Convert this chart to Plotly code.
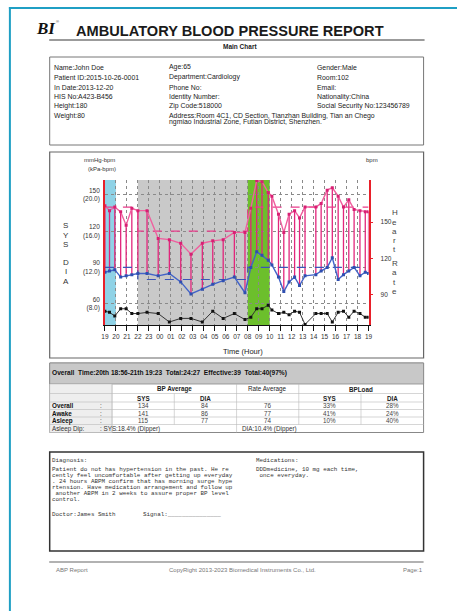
import plotly.graph_objects as go

W, H = 461, 611
def X(p): return p / W
def Y(p): return 1 - p / H

SANS = "Liberation Sans, Arial, sans-serif"
SERIF = "Liberation Serif, Times New Roman, serif"
MONO = "Liberation Mono, Courier New, monospace"

# ---------------- data ----------------
reading_times = ["19:00", "19:25", "19:54", "20:26", "20:56", "21:27", "22:00", "22:50",
                 "23:51", "00:52", "01:54", "02:50", "03:52", "04:49", "05:46", "06:47",
                 "07:45", "08:17", "08:49", "09:18", "09:52", "10:12", "10:48", "11:17",
                 "11:46", "12:16", "12:43", "13:13", "14:12", "14:41", "15:14", "15:42",
                 "16:14", "16:43", "17:12", "17:41", "18:13", "18:42", "19:00"]
sys_values = [141, 137, 140, 136, 125, 139, 137, 137, 114, 113, 110, 101, 110, 112, 113, 119,
              119, 139, 162, 161, 152, 149, 134, 119, 134, 137, 131, 140, 140, 143, 154, 156,
              149, 140, 146, 138, 137, 136, 136]
dia_values = [86, 87, 88, 82, 83, 84, 85, 85, 83, 85, 78, 68, 72, 76, 79, 82,
              69, 90, 103, 100, 96, 92, 82, 70, 78, 82, 75, 83, 84, 87, 90, 98,
              80, 84, 87, 90, 83, 86, 85]
hr_values = [76, 75, 72, 78, 78, 74, 74, 75, 74, 67, 70, 70, 67, 76, 70, 74,
             69, 71, 78, 78, 81, 77, 74, 75, 73, 76, 75, 65, 74, 74, 74, 67,
             75, 76, 71, 76, 74, 71, 71]

hour_labels = ["19", "20", "21", "22", "23", "00", "01", "02", "03", "04", "05", "06", "07",
               "08", "09", "10", "11", "12", "13", "14", "15", "16", "17", "18", "19"]
bp_ticks = [60, 90, 120, 150]
bp_tick_labels = ["60<br>(8.0)", "90<br>(12.0)", "120<br>(16.0)", "150<br>(20.0)"]
hr_ticks = [90, 120, 150]

# shaded periods (start, end)
first_hour = ("19:00", "20:00")
sleep_period = ("22:00", "08:00")
surge_period = ("08:00", "10:00")

sys_limit_awake, sys_limit_asleep = 140, 120
dia_limit_awake, dia_limit_asleep = 90, 80

info_col1 = ["Name:John Doe", "Patient ID:2015-10-26-0001", "In Date:2013-12-20",
             "HIS No:A423-B456", "Height:180", "Weight:80"]
info_col2 = ["Age:65", "Department:Cardiology", "Phone No:", "Identity Number:",
             "Zip Code:518000",
             "Address:Room 4C1, CD Section, Tianzhan Building, Tian an Chego",
             "ngmiao Industrial Zone, Futian District, Shenzhen."]
info_col3 = ["Gender:Male", "Room:102", "Email:", "Nationality:China",
             "Social Security No:123456789"]

summary_title = "Overall  Time:20th 18:56-21th 19:23  Total:24:27  Effective:39  Total:40(97%)"
row_names = ["Overall", "Awake", "Asleep"]
sys_avg = [134, 141, 115]
dia_avg = [84, 86, 77]
rate_avg = [76, 77, 74]
sys_load = ["33%", "41%", "10%"]
dia_load = ["28%", "24%", "40%"]
dip_sys = "SYS:18.4% (Dipper)"
dip_dia = "DIA:10.4% (Dipper)"

diagnosis_lines = ["Diagnosis:",
                   "Patient do not has hypertension in the past. He re",
                   "cently feel uncomfortable after getting up everyday",
                   ". 24 hours ABPM confirm that has morning surge hype",
                   "rtension. Have medication arrangement and follow up",
                   " another ABPM in 2 weeks to assure proper BP level",
                   "control."]
medication_lines = ["Medications:", "DDDmedicine, 10 mg each time,", " once everyday."]
doctor_text = "Doctor:James Smith"
signal_text = "Signal:_______________"


# ---------------- helpers ----------------
def to_offsets(times, start=19):
    out, prev = [], None
    for t in times:
        h, m = map(int, t.split(":"))
        v = ((h - start) % 24) + m / 60
        if prev is not None:
            while v < prev:
                v += 24
        out.append(v)
        prev = v
    return out

t = to_offsets(reading_times)
def off(clock):
    return to_offsets([clock])[0]

fig = go.Figure()

# range bars SYS->DIA
bx, by = [], []
for xi, s, d in zip(t, sys_values, dia_values):
    bx += [xi, xi, None]
    by += [d, s, None]
fig.add_trace(go.Scatter(x=bx, y=by, mode="lines", line=dict(color="#e2267c", width=1.3),
                         hoverinfo="skip", showlegend=False))

# threshold step lines
s0 = off(sleep_period[0])
s1 = off(sleep_period[1])
if s1 <= s0:
    s1 += 24
step_x = [0, s0, s0, s1, s1, 24]
fig.add_trace(go.Scatter(x=step_x, y=[sys_limit_awake, sys_limit_awake, sys_limit_asleep,
                                      sys_limit_asleep, sys_limit_awake, sys_limit_awake],
                         mode="lines", line=dict(color="#ea3d8c", width=1.2, dash="dash"),
                         hoverinfo="skip", showlegend=False))
fig.add_trace(go.Scatter(x=step_x, y=[dia_limit_awake, dia_limit_awake, dia_limit_asleep,
                                      dia_limit_asleep, dia_limit_awake, dia_limit_awake],
                         mode="lines", line=dict(color="#3a55b8", width=1.2, dash="dash"),
                         hoverinfo="skip", showlegend=False))

fig.add_trace(go.Scatter(x=t, y=sys_values, mode="lines+markers",
                         line=dict(color="#f0609f", width=1.4),
                         marker=dict(symbol="square", size=3, color="#d81f73"), showlegend=False))
fig.add_trace(go.Scatter(x=t, y=dia_values, mode="lines+markers",
                         line=dict(color="#4263c8", width=1.4),
                         marker=dict(symbol="square", size=3, color="#2f4fb0"), showlegend=False))
fig.add_trace(go.Scatter(x=t, y=hr_values, mode="lines+markers", yaxis="y2",
                         line=dict(color="#333333", width=1),
                         marker=dict(symbol="square", size=3, color="#111111"), showlegend=False))

shapes = []
def period_shape(p, color):
    a = off(p[0])
    b = off(p[1])
    if b <= a:
        b += 24
    shapes.append(dict(type="rect", xref="x", yref="y domain", x0=a, x1=b, y0=0, y1=1,
                       fillcolor=color, line=dict(width=0), layer="below"))
period_shape(first_hour, "#8fd2e6")
period_shape(sleep_period, "#c9c9c9")
period_shape(surge_period, "#6cbf2c")

def hline(x0, x1, y, color="#666", width=1):
    shapes.append(dict(type="line", xref="paper", yref="paper", x0=X(x0), x1=X(x1),
                       y0=Y(y), y1=Y(y), line=dict(color=color, width=width)))
def vline(x, y0, y1, color="#666", width=1):
    shapes.append(dict(type="line", xref="paper", yref="paper", x0=X(x), x1=X(x),
                       y0=Y(y0), y1=Y(y1), line=dict(color=color, width=width)))
def rect(x0, y0, x1, y1, color="#666", width=1, fill="rgba(0,0,0,0)"):
    shapes.append(dict(type="rect", xref="paper", yref="paper", x0=X(x0), x1=X(x1),
                       y0=Y(y0), y1=Y(y1), line=dict(color=color, width=width), fillcolor=fill,
                       layer="below"))

# page frame
hline(5, 461, 8, "#1f9fc4", 2)
vline(6, 7, 611, "#1f9fc4", 2)
# title rule
hline(46, 428, 40, "#7a7a7a", 1.5)
# boxes
rect(46.5, 57, 427, 145, "#777", 1)
rect(46.5, 152, 427, 358, "#666", 1.2)
rect(46.5, 363, 427, 432.5, "#888", 1)
rect(46.5, 363, 427, 384, "#888", 0.8, "#c8c8c8")
rect(46.5, 384, 110, 432.5, "#bbb", 0.5, "#eeeeee")
rect(46.5, 452, 427, 551, "#333", 1.5)
hline(46, 427, 562, "#999", 1.5)

# table grid
cols = [46.5, 110, 173.3, 236.7, 300, 363.3, 427]
rows_y = [384, 393.5, 402, 409.5, 417, 424.5, 432.5]
for yy in rows_y[1:-1]:
    hline(46.5, 427, yy, "#bbbbbb", 0.6)
vline(110, 384, 432.5, "#bbbbbb", 0.6)
vline(236.7, 384, 432.5, "#bbbbbb", 0.6)
vline(300, 384, 424.5, "#bbbbbb", 0.6)
vline(173.3, 393.5, 424.5, "#bbbbbb", 0.6)
vline(363.3, 393.5, 424.5, "#bbbbbb", 0.6)

annotations = []
def txt(x, y, s, size=6.5, color="#222", anchor="left", family=SANS, bold=False):
    annotations.append(dict(x=X(x), y=Y(y), xref="paper", yref="paper", text=s,
                            showarrow=False, xanchor=anchor, yanchor="middle",
                            borderpad=0, borderwidth=0,
                            font=dict(size=size, color=color, family=family,
                                      weight="bold" if bold else "normal")))

# header
txt(33, 29, "<i>BI</i>", 17, "#111", "left", SERIF, True)
txt(53, 22, "®", 4, "#333", "left")
txt(230, 31, "AMBULATORY BLOOD PRESSURE REPORT", 14.6, "#1a1a1a", "center", SANS, True)
txt(240, 47, "Main Chart", 6.5, "#222", "center", SANS, True)

info_rows = [67.3, 77.3, 87, 96.7, 106.3, 115.6, 122]
for i, s in enumerate(info_col1):
    txt(51, info_rows[i], s, 6.9)
for i, s in enumerate(info_col2):
    txt(168, info_rows[i], s, 6.9)
for i, s in enumerate(info_col3):
    txt(319, info_rows[i], s, 6.9)

# chart texts
txt(97, 160, "mmHg-bpm", 6, "#333", "center")
txt(100, 169, "(kPa-bpm)", 6, "#333", "center")
txt(374, 160, "bpm", 6, "#333", "center")
for ch, yy in zip("SYSDIA", [226, 235.3, 244.5, 262.5, 271.7, 281]):
    txt(62.7, yy, ch, 8, "#333", "center")
for ch, yy in zip("Heart", [212.7, 222, 231.3, 240.5, 249.5]):
    txt(397.7, yy, ch, 8, "#444", "center")
for ch, yy in zip("Rate", [263, 272.5, 282, 291.5]):
    txt(397.7, yy, ch, 8, "#444", "center")
txt(243, 351.5, "Time (Hour)", 7.5, "#222", "center")

# table texts
txt(48.5, 373.5, summary_title, 6.6, "#111", "left", SANS, True)
txt((cols[1] + cols[3]) / 2, 389, "BP Average", 6.3, "#222", "center", SANS, True)
txt((cols[3] + cols[4]) / 2, 389, "Rate Average", 6.3, "#222", "center")
txt((cols[4] + cols[6]) / 2, 389, "BPLoad", 6.3, "#222", "center", SANS, True)
for c, s in [(1, "SYS"), (2, "DIA"), (4, "SYS"), (5, "DIA")]:
    txt((cols[c] + cols[c + 1]) / 2, 398, s, 6.3, "#222", "center", SANS, True)
for i, name in enumerate(row_names):
    yy = (rows_y[2 + i] + rows_y[3 + i]) / 2
    txt(48.5, yy, name, 6.3, "#111", "left", SANS, True)
    txt(98, yy, ":", 6.3, "#333", "left")
    vals = [sys_avg[i], dia_avg[i], rate_avg[i], sys_load[i], dia_load[i]]
    for c, v in enumerate(vals):
        txt((cols[c + 1] + cols[c + 2]) / 2, yy, str(v), 6.3, "#444", "center")
dy = (rows_y[5] + rows_y[6]) / 2
txt(48.5, dy, "Asleep Dip:", 6.3, "#333", "left")
txt(98, dy, ": " + dip_sys, 6.3, "#333", "left")
txt(cols[3] + 6, dy, dip_dia, 6.3, "#333", "left")

# diagnosis
def nb(s):
    return s.replace(" ", "&nbsp;") if s.startswith(" ") else s
diag_y = [460, 469, 475.1, 481.3, 487.5, 493.6, 499.7]
for s, yy in zip(diagnosis_lines, diag_y):
    txt(48.5, yy, nb(s), 5.9, "#333", "left", MONO)
for s, yy in zip(medication_lines, diag_y[:3]):
    txt(256.7, yy, nb(s), 5.9, "#333", "left", MONO)
txt(48.5, 514, doctor_text, 5.9, "#333", "left", MONO)
txt(141.7, 514, signal_text, 5.9, "#333", "left", MONO)

# footer
txt(53, 570, "ABP Report", 6, "#777", "left")
txt(243, 570, "CopyRight 2013-2023 Biomedical Instruments Co., Ltd.", 6, "#777", "center")
txt(426, 569.5, "Page:1", 6, "#777", "right")

fig.update_layout(
    width=W, height=H, margin=dict(l=0, r=0, t=0, b=0),
    paper_bgcolor="white", plot_bgcolor="rgba(0,0,0,0)",
    showlegend=False, shapes=shapes, annotations=annotations,
    xaxis=dict(domain=[X(102.7), X(371)], range=[0, 24], tickvals=list(range(25)),
               ticktext=hour_labels, ticks="outside", ticklen=5, tickcolor="#111",
               showline=True, linecolor="#111", linewidth=1, showgrid=True,
               gridcolor="#8a8a8a", griddash="dot", gridwidth=1, zeroline=False,
               tickfont=dict(size=6.5, color="#333", family=SANS)),
    yaxis=dict(domain=[Y(325), Y(180)], range=[42.3, 162.4], tickvals=bp_ticks,
               ticktext=bp_tick_labels, ticks="", showline=True, linecolor="#e8202a",
               linewidth=1.5, showgrid=True, gridcolor="#8a8a8a", griddash="dot",
               zeroline=False, tickfont=dict(size=6.5, color="#333", family=SANS),
               ticklabelstandoff=2),
    yaxis2=dict(overlaying="y", side="right", range=[64.5, 185], tickvals=hr_ticks,
                ticks="outside", ticklen=3, tickcolor="#e8202a", showline=True,
                linecolor="#e8202a", linewidth=1.5, showgrid=False, zeroline=False,
                tickfont=dict(size=6.5, color="#333", family=SANS), ticklabelstandoff=6),
)

fig.write_html("out.html", config={"displayModeBar": False},
               post_script="document.body.style.margin='0';document.body.style.overflow='hidden';")
